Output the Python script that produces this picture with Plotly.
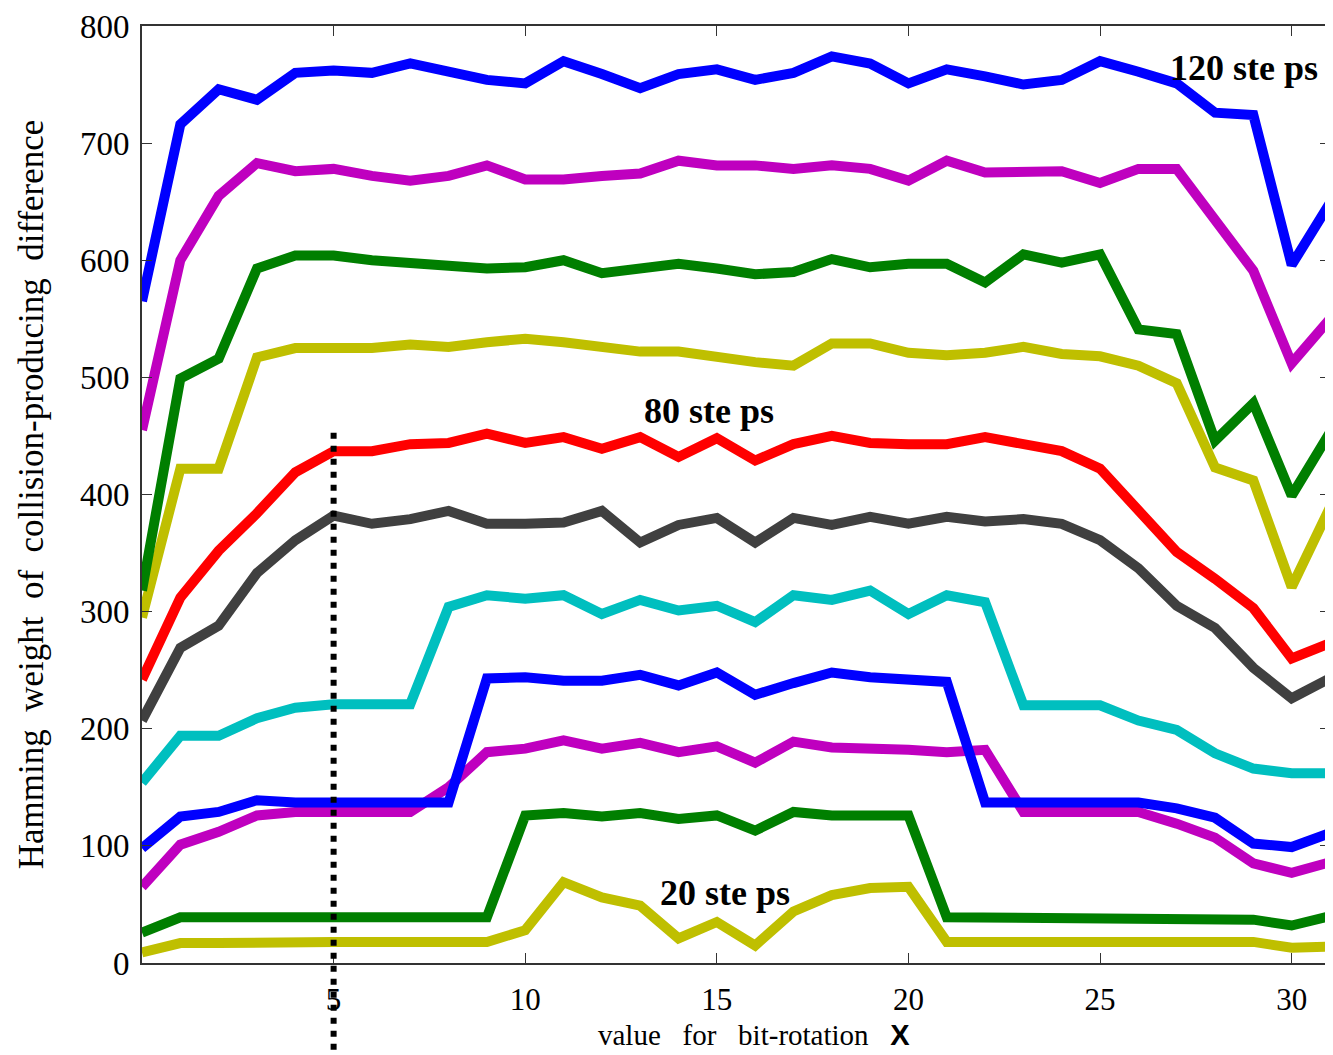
import plotly.graph_objects as go

x_rot = list(range(32))

steps_120 = [565, 716, 746, 737, 760, 762, 760, 768, 761, 754, 751, 770, 759, 747, 759, 763, 754, 760, 774, 768, 751, 763, 757, 750, 754, 770, 761, 751, 726, 724, 596, 649]
steps_110 = [455, 600, 655, 683, 676, 678, 672, 668, 672, 681, 669, 669, 672, 674, 685, 681, 681, 678, 681, 678, 668, 685, 675, 675, 676, 666, 678, 678, 636, 591, 512, 550]
steps_100 = [318, 499, 516, 593, 604, 604, 600, 597, 594, 593, 594, 600, 589, 593, 597, 593, 588, 590, 601, 594, 597, 597, 581, 605, 598, 605, 541, 537, 446, 478, 399, 453]
steps_90 = [295, 422, 422, 517, 525, 525, 525, 528, 526, 530, 533, 530, 525, 522, 522, 517, 513, 510, 529, 529, 521, 519, 521, 526, 520, 518, 510, 495, 423, 412, 321, 389]
steps_80 = [242, 312, 352, 384, 419, 437, 437, 443, 444, 452, 444, 449, 439, 449, 432, 448, 429, 443, 450, 444, 443, 443, 449, 444, 437, 422, 385, 351, 328, 303, 260, 273]
steps_70 = [207, 269, 288, 333, 361, 382, 375, 379, 386, 375, 375, 376, 386, 359, 374, 380, 359, 380, 374, 381, 375, 381, 377, 379, 375, 361, 337, 305, 286, 252, 226, 243]
steps_60 = [154, 194, 194, 209, 218, 221, 221, 221, 304, 314, 311, 314, 298, 310, 301, 305, 291, 314, 310, 318, 298, 314, 308, 220, 220, 220, 207, 199, 179, 166, 162, 162]
steps_50 = [98, 125, 129, 139, 137, 137, 137, 137, 137, 243, 244, 241, 241, 246, 237, 248, 229, 239, 248, 244, 243, 240, 137, 137, 137, 137, 137, 132, 124, 102, 99, 111]
steps_40 = [65, 101, 112, 126, 129, 129, 129, 129, 150, 180, 183, 190, 183, 188, 180, 185, 171, 189, 184, 184, 182, 180, 182, 129, 129, 129, 129, 119, 107, 85, 77, 86]
steps_30 = [26, 39, 39, 39, 39, 39, 39, 39, 39, 39, 126, 128, 125, 128, 123, 126, 113, 129, 126, 126, 126, 39, 39, 39, 39, 39, 39, 39, 39, 37, 32, 40]
steps_20 = [9, 17, 17, 18, 18, 18, 18, 18, 18, 18, 28, 69, 56, 49, 21, 35, 15, 44, 58, 64, 65, 18, 18, 18, 18, 18, 18, 18, 18, 18, 13, 14]

series = [
    (steps_20, "#BFBF00"),
    (steps_30, "#007F00"),
    (steps_40, "#BF00BF"),
    (steps_50, "#0000FF"),
    (steps_60, "#00BFBF"),
    (steps_70, "#404040"),
    (steps_80, "#FF0000"),
    (steps_90, "#BFBF00"),
    (steps_100, "#007F00"),
    (steps_110, "#BF00BF"),
    (steps_120, "#0000FF"),
]

x_range = [0, 31]
y_range = [0, 800]
x_ticks = [5, 10, 15, 20, 25, 30]
y_ticks = [0, 100, 200, 300, 400, 500, 600, 700, 800]
marker_x = 5
marker_top = 456
marker_bottom = -74

labels = [("120 ste ps", 28.75, 764), ("80 ste ps", 14.8, 471), ("20 ste ps", 15.2, 60)]
x_title = 'value   for   bit-rotation   <span style="font-family:Liberation Sans;font-weight:bold">X</span>'
y_title = "Hamming  weight  of  collision-producing  difference"

fig = go.Figure()
for ys, col in series:
    fig.add_trace(go.Scatter(x=x_rot, y=ys, mode="lines",
                             line=dict(color=col, width=10), showlegend=False))

ylen = y_range[1] - y_range[0]
fig.add_shape(type="line", xref="x", yref="paper", x0=marker_x, x1=marker_x,
              y0=(marker_bottom - y_range[0]) / ylen, y1=(marker_top - y_range[0]) / ylen,
              line=dict(color="black", width=6, dash="6px,7px"), layer="above")

for txt, lx, ly in labels:
    fig.add_annotation(x=lx, y=ly, xref="x", yref="y", text="<b>" + txt + "</b>",
                       showarrow=False, font=dict(family="Liberation Serif", size=36, color="black"))

serif = "Liberation Serif"
fig.add_annotation(x=0.515, y=-0.077, xref="paper", yref="paper", text=x_title,
                   showarrow=False, xanchor="center", yanchor="middle",
                   font=dict(family=serif, size=29, color="black"))

fig.update_layout(
    width=1325, height=1047,
    margin=dict(l=134, r=1, t=17, b=92),
    paper_bgcolor="white", plot_bgcolor="white",
    font=dict(family=serif, color="black"),
    xaxis=dict(range=x_range, tickvals=x_ticks, ticks="inside", ticklen=10, tickwidth=1,
               tickcolor="#333", showline=True, linecolor="#333", linewidth=2, mirror="ticks",
               showgrid=False, zeroline=False, tickfont=dict(family=serif, size=31),
               ticklabelstandoff=8, ticklabeloverflow="allow"),
    yaxis=dict(range=y_range, tickvals=y_ticks, ticks="inside", ticklen=10, tickwidth=1,
               tickcolor="#333", showline=True, linecolor="#333", linewidth=2, mirror="ticks",
               showgrid=False, zeroline=False, tickfont=dict(family=serif, size=33),
               ticklabelstandoff=4, ticklabeloverflow="allow",
               title=dict(text=y_title, font=dict(family=serif, size=35), standoff=26)),
)

fig.write_html("out.html")
